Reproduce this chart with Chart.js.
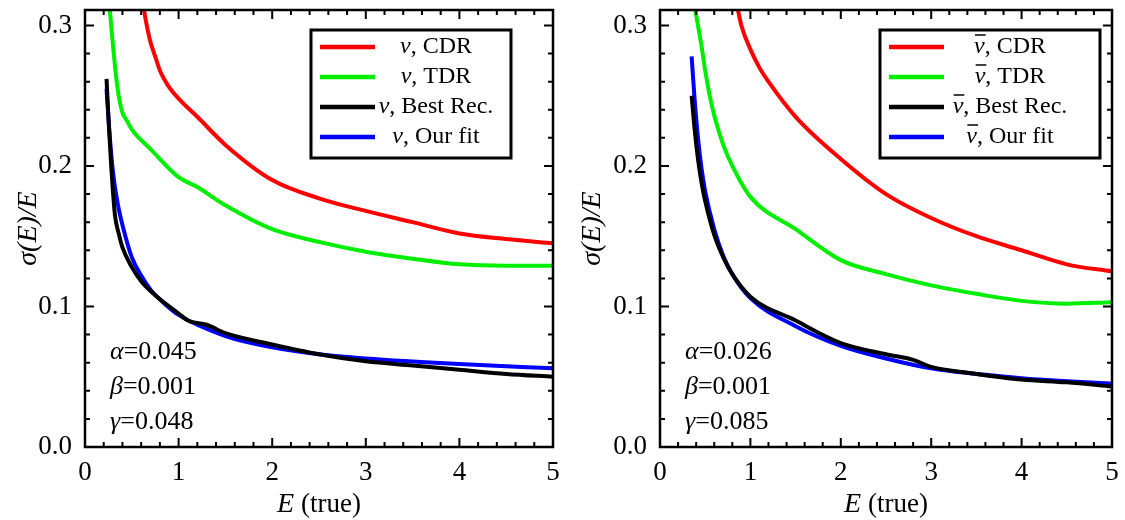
<!DOCTYPE html>
<html><head><meta charset="utf-8">
<script src="https://cdn.jsdelivr.net/npm/chart.js@4"></script>
<style>body{margin:0;background:#fff}#w{display:flex;width:1125px;height:520px}.c{position:relative;height:520px}</style>
</head><body><div id="w"><div class="c" style="width:562px"><canvas id="a"></canvas></div><div class="c" style="width:563px"><canvas id="b"></canvas></div></div>
<script>
// Left panel (neutrino)
const L_cdr_x=[0.62,0.66,0.7,0.75,0.8,0.9,1.0,1.2,1.5,2.0,2.5,3.0,3.5,4.0,4.5,5.0];
const L_cdr_y=[0.315,0.3,0.288,0.278,0.268,0.256,0.248,0.235,0.215,0.19,0.177,0.168,0.16,0.152,0.148,0.145];
const L_tdr_x=[0.26,0.28,0.3,0.33,0.36,0.4,0.45,0.5,0.7,1.0,1.2,1.5,2.0,2.5,3.0,3.5,4.0,4.5,5.0];
const L_tdr_y=[0.315,0.3,0.285,0.265,0.25,0.238,0.232,0.226,0.212,0.192,0.185,0.172,0.155,0.146,0.139,0.134,0.130,0.129,0.129];
const L_best_x=[0.23,0.25,0.28,0.32,0.36,0.4,0.5,0.6,0.75,1.0,1.1,1.3,1.5,2.0,2.5,3.0,3.5,4.0,4.5,5.0];
const L_best_y=[0.262,0.235,0.2,0.165,0.152,0.142,0.128,0.118,0.108,0.095,0.09,0.087,0.081,0.073,0.066,0.061,0.058,0.055,0.052,0.050];
const L_fit_x=[0.23,0.26,0.3,0.35,0.4,0.5,0.6,0.7,0.85,1.0,1.5,2.0,2.5,3.0,4.0,5.0];
const L_fit_y=[0.255,0.225,0.195,0.173,0.158,0.135,0.122,0.112,0.102,0.094,0.079,0.071,0.066,0.063,0.059,0.056];
// Right panel (antineutrino)
const R_cdr_x=[0.85,0.9,1.0,1.1,1.2,1.5,2.0,2.5,3.0,3.5,4.0,4.5,5.0];
const R_cdr_y=[0.315,0.3,0.283,0.27,0.26,0.235,0.205,0.18,0.163,0.15,0.14,0.13,0.125];
const R_tdr_x=[0.38,0.42,0.46,0.5,0.55,0.6,0.7,0.8,1.0,1.5,2.0,2.5,3.0,3.5,4.0,4.5,5.0];
const R_tdr_y=[0.315,0.3,0.285,0.268,0.25,0.236,0.215,0.2,0.178,0.155,0.133,0.123,0.115,0.109,0.104,0.102,0.103];
const R_best_x=[0.35,0.38,0.42,0.46,0.5,0.6,0.7,0.8,1.0,1.5,2.0,2.5,2.8,3.0,3.5,4.0,4.5,5.0];
const R_best_y=[0.25,0.228,0.205,0.188,0.175,0.151,0.135,0.123,0.107,0.09,0.074,0.066,0.062,0.057,0.052,0.048,0.046,0.043];
const R_fit_x=[0.35,0.38,0.42,0.46,0.5,0.6,0.7,0.8,1.0,1.5,2.0,2.5,3.0,4.0,5.0];
const R_fit_y=[0.278,0.25,0.22,0.198,0.182,0.155,0.136,0.123,0.106,0.086,0.072,0.063,0.056,0.049,0.045];
const L_labels=["ν, CDR","ν, TDR","ν, Best Rec.","ν, Our fit"];
const R_labels=["ν̄, CDR","ν̄, TDR","ν̄, Best Rec.","ν̄, Our fit"];
const colors=["#ff0000","#00ee00","#000000","#0000ff"];
const L_params=["α=0.045","β=0.001","γ=0.048"];
const R_params=["α=0.026","β=0.001","γ=0.085"];
const yTicks=[0,0.1,0.2,0.3];

const SERIF="'Liberation Serif','DejaVu Serif',serif";
const pts=(xs,ys)=>xs.map((x,i)=>({x,y:ys[i]}));
function make(id,series,labels,params,padL,padR){
  const deco={id:'deco',afterDraw(ch){
    const c=ch.ctx,a=ch.chartArea,xs=ch.scales.x,ys=ch.scales.y;
    c.save();c.strokeStyle='#000';c.lineWidth=2.5;
    c.strokeRect(a.left,a.top,a.right-a.left,a.bottom-a.top);
    c.lineWidth=2;
    for(let v=0;v<=5.001;v+=0.2){const x=xs.getPixelForValue(v);const maj=Math.abs(v-Math.round(v))<1e-6;const l=maj?9:5;
      c.beginPath();c.moveTo(x,a.bottom);c.lineTo(x,a.bottom-l);c.moveTo(x,a.top);c.lineTo(x,a.top+l);c.stroke();}
    for(let k=0;k<=31;k+=2){const y=ys.getPixelForValue(k/100);const l=k%10===0?9:5;
      c.beginPath();c.moveTo(a.left,y);c.lineTo(a.left+l,y);c.moveTo(a.right,y);c.lineTo(a.right-l,y);c.stroke();}
    // legend
    const bx=id==='a'?311:318,by=a.top+20,bw=id==='a'?200:220,bh=128;
    c.lineWidth=3;c.strokeRect(bx,by,bw,bh);
    const F=24;c.textBaseline='middle';
    labels.forEach((t,i)=>{const y=by+17+i*30;c.strokeStyle=colors[i];c.lineWidth=4.5;
      c.beginPath();c.moveTo(bx+9,y);c.lineTo(bx+64,y);c.stroke();c.fillStyle='#000';
      const bar=t.includes('\u0304');const body=t.replace('\u0304','').slice(1);
      c.font='italic '+F+'px '+SERIF;const nw=c.measureText('ν').width;c.font=F+'px '+SERIF;const bw2=c.measureText(body).width;
      const tx=bx+(id==='a'?125:130)-(nw+bw2)/2;
      c.font='italic '+F+'px '+SERIF;c.fillText('ν',tx,y);
      if(bar){c.lineWidth=1.5;c.strokeStyle='#000';c.beginPath();c.moveTo(tx+1,y-12);c.lineTo(tx+nw+1,y-12);c.stroke();}
      c.font=F+'px '+SERIF;c.fillText(body,tx+nw,y);});
    c.textAlign='left';
    params.forEach((t,i)=>{const y=a.top+342+i*35;c.font='italic 26px '+SERIF;c.fillText(t[0],a.left+25,y);
      const w=c.measureText(t[0]).width;c.font='26px '+SERIF;c.fillText(t.slice(1),a.left+25+w,y);});
    // axis titles
    c.font='italic 28px '+SERIF;const ew=c.measureText('E').width;c.font='27px '+SERIF;const tw=c.measureText(' (true)').width;
    const cx=(a.left+a.right)/2-(ew+tw)/2;c.textBaseline='alphabetic';
    c.font='italic 28px '+SERIF;c.fillText('E',cx,512);c.font='27px '+SERIF;c.fillText(' (true)',cx+ew,512);
    c.translate(id==='a'?36:38,(a.top+a.bottom)/2);c.rotate(-Math.PI/2);c.textAlign='center';
    c.font='italic 28px '+SERIF;c.fillText('σ(E)/E',0,0);
    c.restore();}};
  new Chart(document.getElementById(id),{type:'line',
    data:{datasets:series.map((s,i)=>({label:labels[i],data:s,borderColor:colors[i],borderWidth:4,pointRadius:0,tension:0.3,cubicInterpolationMode:'monotone',fill:false}))},
    options:{responsive:true,maintainAspectRatio:false,animation:false,
      layout:{padding:{left:0,right:padR,top:10,bottom:0}},
      plugins:{legend:{display:false},tooltip:{enabled:false}},
      scales:{
        x:{type:'linear',min:0,max:5,grid:{display:false},border:{display:false},
          ticks:{stepSize:1,color:'#000',font:{family:SERIF,size:27},padding:2},
          afterFit(s){s.height=73;s.paddingLeft=0;s.paddingRight=0;}},
        y:{min:0,max:0.311,grid:{display:false},border:{display:false},
          afterDataLimits(s){s.min=0;s.max=0.311;},
          afterBuildTicks(s){s.ticks=yTicks.map(v=>({value:v}));},
          ticks:{color:'#000',font:{family:SERIF,size:27},padding:5,callback:v=>v.toFixed(1)},
          afterFit(s){s.width=padL;s.paddingTop=0;s.paddingBottom=0;}}}},
    plugins:[deco]});
}
make('a',[pts(L_cdr_x,L_cdr_y),pts(L_tdr_x,L_tdr_y),pts(L_best_x,L_best_y),pts(L_fit_x,L_fit_y)],L_labels,L_params,85,9);
make('b',[pts(R_cdr_x,R_cdr_y),pts(R_tdr_x,R_tdr_y),pts(R_best_x,R_best_y),pts(R_fit_x,R_fit_y)],R_labels,R_params,98,13);
</script></body></html>
